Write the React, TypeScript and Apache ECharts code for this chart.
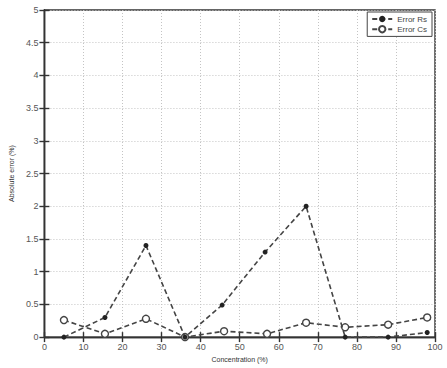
import React, { useEffect, useRef } from "react";
import * as echarts from "echarts";

const rsX = [5, 15.5, 26, 36, 45.5, 56.5, 67, 77, 88, 98];
const rsY = [0, 0.3, 1.4, 0, 0.49, 1.3, 2.0, 0, 0, 0.07];
const csX = [5, 15.5, 26, 36, 46, 57, 67, 77, 88, 98];
const csY = [0.26, 0.05, 0.28, 0, 0.09, 0.05, 0.22, 0.15, 0.19, 0.3];
const seriesNames = ["Error Rs", "Error Cs"];
const xTitle = "Concentration (%)";
const yTitle = "Absolute error (%)";

export default function App() {
  const ref = useRef<HTMLDivElement>(null);
  useEffect(() => {
    if (!ref.current) return;
    const chart = echarts.init(ref.current, null, { renderer: "svg" });
    const font = "Liberation Sans";
    const axisCommon = {
      axisLine: { show: true, lineStyle: { color: "#333", width: 1.4 } },
      axisTick: { show: true, inside: true, length: 5, lineStyle: { color: "#333", width: 1.4 } },
    };
    chart.setOption({
      animation: false,
      backgroundColor: "#fff",
      grid: {
        left: 35, right: 12, top: 10, bottom: 30, containLabel: false,
        show: true, borderColor: "#333", borderWidth: 1.4, backgroundColor: "transparent",
      },
      legend: {
        right: 15,
        top: 12,
        orient: "vertical",
        data: seriesNames,
        backgroundColor: "#fff",
        borderColor: "#444",
        borderWidth: 1,
        padding: [3, 5, 3, 4],
        itemGap: 2,
        itemWidth: 20,
        itemHeight: 8,
        textStyle: { fontFamily: font, fontSize: 8, color: "#444" },
      },
      xAxis: [
        {
          type: "value",
          min: 0,
          max: 100,
          interval: 10,
          name: xTitle,
          nameLocation: "middle",
          nameGap: 18,
          nameTextStyle: { fontFamily: font, fontSize: 7, color: "#333" },
          axisLabel: { fontFamily: font, fontSize: 9, color: "#555", margin: 5 },
          splitLine: { show: true, lineStyle: { color: "#c4c4c4", type: [1, 2], width: 1 } },
          ...axisCommon,
        },
        {
          type: "value",
          position: "top",
          min: 0,
          max: 100,
          interval: 10,
          axisLabel: { show: false },
          splitLine: { show: false },
          ...axisCommon,
        },
      ],
      yAxis: [
        {
          type: "value",
          min: 0,
          max: 5,
          interval: 0.5,
          name: yTitle,
          nameLocation: "middle",
          nameGap: 20,
          nameTextStyle: { fontFamily: font, fontSize: 7, color: "#333" },
          axisLabel: { fontFamily: font, fontSize: 9, color: "#555", margin: 6 },
          splitLine: { show: true, lineStyle: { color: "#c4c4c4", type: [1, 2], width: 1 } },
          ...axisCommon,
        },
        {
          type: "value",
          position: "right",
          min: 0,
          max: 5,
          interval: 0.5,
          axisLabel: { show: false },
          splitLine: { show: false },
          ...axisCommon,
        },
      ],
      series: [
        {
          name: seriesNames[1],
          type: "line",
          data: csX.map((x, i) => [x, csY[i]]),
          symbol: "circle",
          symbolSize: 7,
          itemStyle: { color: "#fff", borderColor: "#444", borderWidth: 1.4 },
          lineStyle: { color: "#444", width: 1.6, type: [5, 3] },
          z: 2,
        },
        {
          name: seriesNames[0],
          type: "line",
          data: rsX.map((x, i) => [x, rsY[i]]),
          symbol: "circle",
          symbolSize: 5,
          itemStyle: { color: "#222" },
          lineStyle: { color: "#444", width: 1.6, type: [5, 3] },
          z: 4,
        },
      ],
    });
    return () => chart.dispose();
  }, []);
  return <div ref={ref} style={{ width: 447, height: 368, position: "absolute", left: 0, top: 0 }} />;
}
